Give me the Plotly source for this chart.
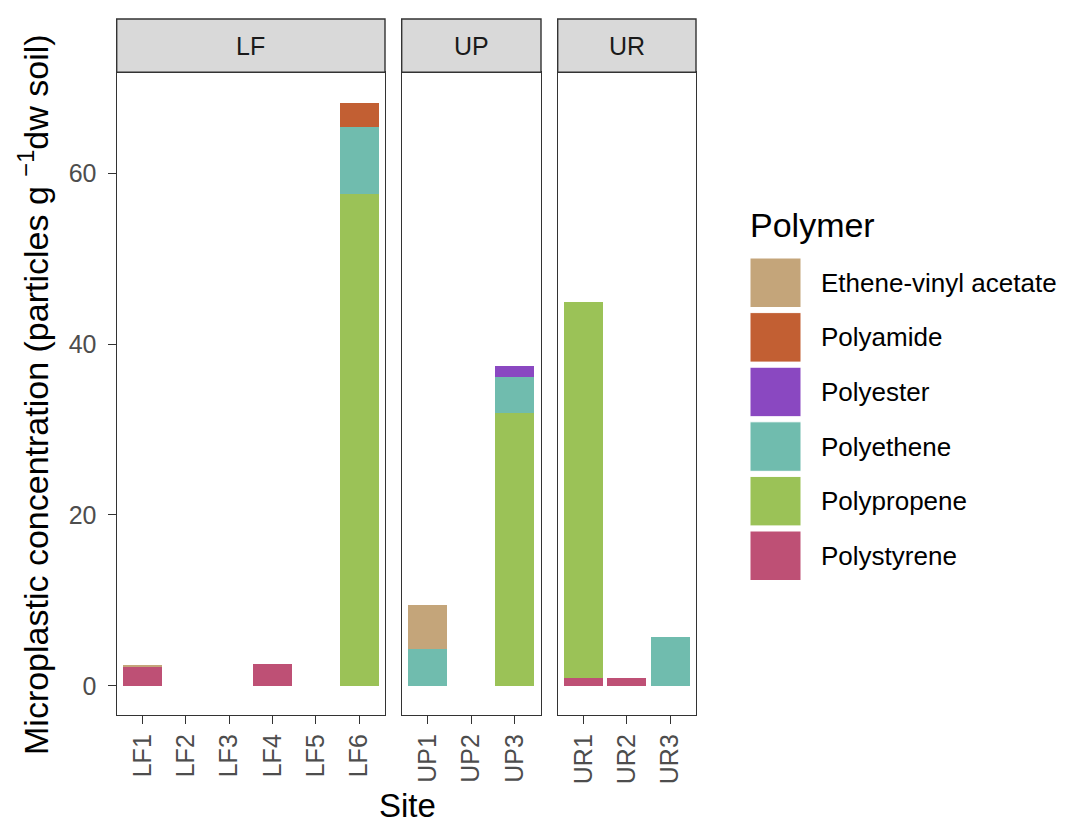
import plotly.graph_objects as go

# ---------------- data ----------------
sites = ["LF1", "LF2", "LF3", "LF4", "LF5", "LF6",
         "UP1", "UP2", "UP3",
         "UR1", "UR2", "UR3"]
facet = ["LF"] * 6 + ["UP"] * 3 + ["UR"] * 3
facets = ["LF", "UP", "UR"]

polymers = ["Ethene-vinyl acetate", "Polyamide", "Polyester",
            "Polyethene", "Polypropene", "Polystyrene"]
colors = ["#C4A57A", "#C25F33", "#8A48C1", "#70BCAE", "#9BC257", "#BE5075"]

eva         = [0.12, 0, 0, 0, 0, 0,     5.1, 0, 0,     0, 0, 0]
polyamide   = [0, 0, 0, 0, 0, 2.8,      0, 0, 0,       0, 0, 0]
polyester   = [0, 0, 0, 0, 0, 0,        0, 0, 1.25,    0, 0, 0]
polyethene  = [0, 0, 0, 0, 0, 7.85,     4.36, 0, 4.3,  0, 0, 5.7]
polypropene = [0, 0, 0, 0, 0, 57.55,    0, 0, 31.9,    44.1, 0, 0]
polystyrene = [2.2, 0, 0, 2.5, 0, 0,    0, 0, 0,       0.88, 0.88, 0]

values = {
    "Ethene-vinyl acetate": eva,
    "Polyamide": polyamide,
    "Polyester": polyester,
    "Polyethene": polyethene,
    "Polypropene": polypropene,
    "Polystyrene": polystyrene,
}

y_ticks = [0, 20, 40, 60]
y_range = [-3.42, 71.82]

# ---------------- layout helpers ----------------
OFF = 8  # page body margin
W, H = 1065 - OFF, 826 - OFF
FONT = "Liberation Sans, Arial, sans-serif"
DARK = "#333333"


def px(x):
    return (x - OFF) / W


def py(y):
    return 1 - (y - OFF) / H


panel_x = {"LF": (116.7, 385.0), "UP": (401.7, 541.0), "UR": (557.7, 696.0)}
panel_top, panel_bottom = 72.3, 715.0
strip_top = 19.0

fig = go.Figure()

# stacking order: first trace at bottom (Polystyrene) -> last at top (EVA)
for i, f in enumerate(facets):
    ax = "" if i == 0 else str(i + 1)
    idx = [k for k, ff in enumerate(facet) if ff == f]
    xs = [sites[k] for k in idx]
    for p in reversed(polymers):
        c = colors[polymers.index(p)]
        fig.add_trace(go.Bar(
            x=xs, y=[values[p][k] for k in idx], name=p,
            marker=dict(color=c, line=dict(width=0)),
            width=0.9, showlegend=False,
            xaxis="x" + ax, yaxis="y" + ax,
        ))

layout = dict(
    width=W, height=H,
    margin=dict(l=0, r=0, t=0, b=0),
    paper_bgcolor="white", plot_bgcolor="white",
    barmode="stack",
    font=dict(family=FONT),
    showlegend=False,
)

shapes = []
annotations = []
for i, f in enumerate(facets):
    ax = "" if i == 0 else str(i + 1)
    n = sum(1 for ff in facet if ff == f)
    cats = [s for s, ff in zip(sites, facet) if ff == f]
    x0, x1 = panel_x[f]
    layout["xaxis" + ax] = dict(
        domain=[px(x0), px(x1)], anchor="y" + ax,
        type="category", categoryorder="array", categoryarray=cats,
        range=[-0.6, n - 0.4],
        showline=True, mirror=True, linecolor=DARK, linewidth=1.4,
        ticks="outside", ticklen=8, tickwidth=1.4, tickcolor=DARK,
        tickangle=-90, ticklabelstandoff=0,
        tickfont=dict(size=25, color="#4D4D4D", family=FONT),
        showgrid=False, zeroline=False, fixedrange=True, automargin=False,
    )
    layout["yaxis" + ax] = dict(
        domain=[py(panel_bottom), py(panel_top)], anchor="x" + ax,
        range=y_range, tickvals=y_ticks,
        showline=True, mirror=True, linecolor=DARK, linewidth=1.4,
        ticks="outside" if i == 0 else "", ticklen=8, tickwidth=1.4, tickcolor=DARK,
        showticklabels=(i == 0), ticklabelstandoff=6,
        tickfont=dict(size=25, color="#4D4D4D", family=FONT),
        showgrid=False, zeroline=False, fixedrange=True, automargin=False,
    )
    # strip
    shapes.append(dict(type="rect", xref="paper", yref="paper",
                       x0=px(x0), x1=px(x1), y0=py(panel_top), y1=py(strip_top),
                       fillcolor="#D9D9D9", line=dict(color=DARK, width=1.4),
                       layer="above"))
    annotations.append(dict(text=f, xref="paper", yref="paper",
                            x=px((x0 + x1) / 2), y=py((strip_top + panel_top) / 2),
                            xanchor="center", yanchor="middle", showarrow=False,
                            font=dict(size=25, color="#1A1A1A", family=FONT)))

# axis titles
annotations.append(dict(text="Microplastic concentration (particles g <sup>−1</sup>dw soil)",
                        xref="paper", yref="paper", x=px(34), y=py(395),
                        xanchor="center", yanchor="middle", textangle=-90,
                        showarrow=False, font=dict(size=34, color="black", family=FONT)))
annotations.append(dict(text="Site", xref="paper", yref="paper",
                        x=px(407), y=py(805), xanchor="center", yanchor="middle",
                        showarrow=False, font=dict(size=33, color="black", family=FONT)))

# legend (drawn manually to mimic ggplot keys)
annotations.append(dict(text="Polymer", xref="paper", yref="paper",
                        x=px(748), y=py(225), xanchor="left", yanchor="middle",
                        showarrow=False, font=dict(size=34, color="black", family=FONT)))
key_top0, key_step, key_h = 258.0, 54.6, 49.5
for j, (p, c) in enumerate(zip(polymers, colors)):
    t = key_top0 + j * key_step
    shapes.append(dict(type="rect", xref="paper", yref="paper",
                       x0=px(750), x1=px(801), y0=py(t + key_h), y1=py(t),
                       fillcolor=c, line=dict(color="white", width=1)))
    annotations.append(dict(text=p, xref="paper", yref="paper",
                            x=px(819), y=py(t + key_h / 2), xanchor="left", yanchor="middle",
                            showarrow=False, font=dict(size=26, color="black", family=FONT)))

layout["shapes"] = shapes
layout["annotations"] = annotations
fig.update_layout(**layout)

fig.write_html("out.html")
